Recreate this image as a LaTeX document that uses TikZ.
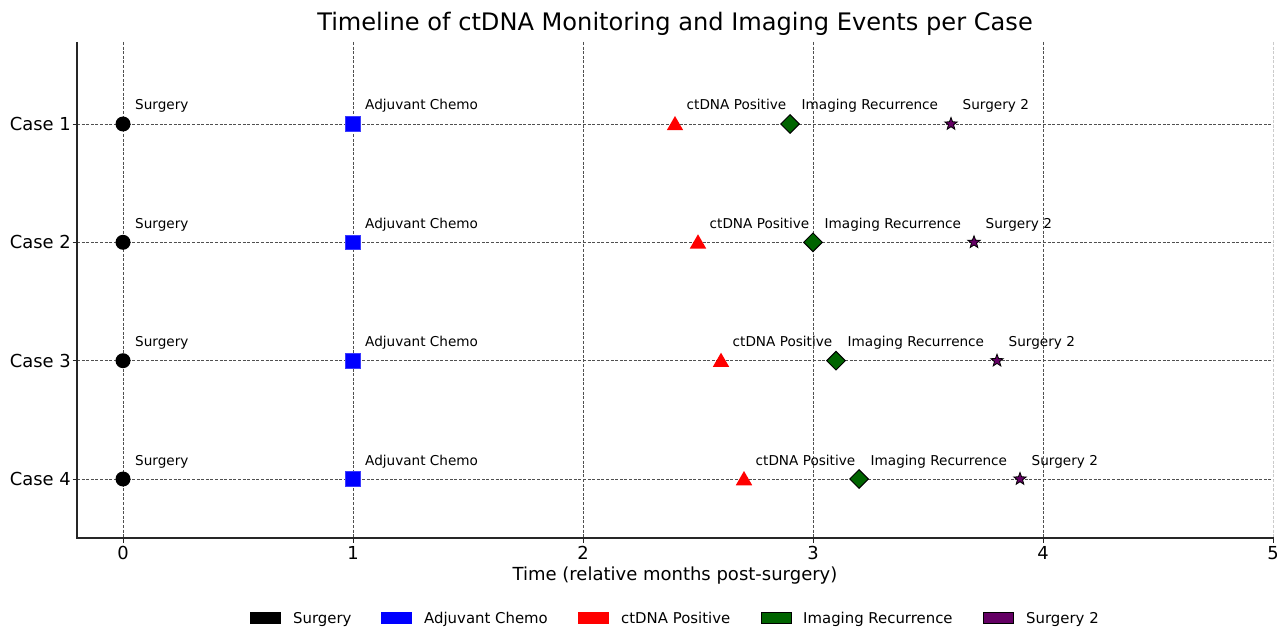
\documentclass[tikz,border=0pt]{standalone}
\usepackage{fontspec}
\setmainfont{DejaVu Sans}
\usetikzlibrary{shapes.geometric,shapes.misc}
\definecolor{darkgreenc}{HTML}{006400}
\definecolor{purplec}{HTML}{640064}
\definecolor{gridc}{HTML}{505050}
\tikzset{
  gridline/.style={draw=gridc,line width=0.7pt,dash pattern=on 3pt off 1.6pt},
  spine/.style={draw=black!85,line width=1.4pt},
  ticklbl/.style={font=\fontsize{17.9}{20}\selectfont,inner sep=0pt},
  ann/.style={font=\fontsize{13.6}{15}\selectfont,inner sep=0pt,anchor=base west},
  legtext/.style={font=\fontsize{14.9}{17}\selectfont,inner sep=0pt,anchor=base west},
  mk-surg/.style={circle,fill=black,minimum size=15pt,inner sep=0pt},
  mk-chemo/.style={rectangle,fill=blue,draw={rgb,255:red,60;green,60;blue,255},line width=0.6pt,minimum size=14.5pt,inner sep=0pt},
  mk-ct/.style={regular polygon,regular polygon sides=3,fill=red,minimum size=19pt,inner sep=0pt},
  mk-img/.style={diamond,fill=darkgreenc,draw=black,line width=1pt,minimum size=19pt,inner sep=0pt},
  mk-s2/.style={star,star points=5,star point ratio=2.4,fill=purplec,draw=black,line width=0.8pt,minimum size=13pt,inner sep=0pt},
  legpatch/.style={minimum width=31pt,minimum height=12.5pt,inner sep=0pt,anchor=west},
}
\begin{document}
\begin{tikzpicture}[x=1pt,y=-1pt]
\useasboundingbox (0,0) rectangle (1277,628);
% title
\node[inner sep=0pt,font=\fontsize{24.1}{28}\selectfont] (title) at (675,24) {Timeline of ctDNA Monitoring and Imaging Events per Case};
% grid
\foreach \t in {0,1,2,3,4}{
  \draw[gridline] ({123+230*\t},42) -- ({123+230*\t},538);
}
\draw[draw=gridc!30,line width=0.7pt,dash pattern=on 3pt off 1.6pt] (1273,42) -- (1273,538);
\foreach \r/\yy in {1/124,2/242.3,3/360.7,4/479}{
  \draw[gridline] (77,\yy) -- (1273,\yy);
  \draw[black!85,line width=0.9pt] (72.5,\yy) -- (77,\yy);
  \node[ticklbl,anchor=east] (ylab\r) at (71,\yy) {Case \r};
}
% spines
\coordinate (topleft) at (77,42);
\coordinate (origin) at (77,538);
\coordinate (botright) at (1273.5,538);
\draw[spine] (topleft) -- (origin) -- (botright);
\foreach \t in {0,1,2,3,4,5}{
  \draw[black!85,line width=0.9pt] ({123+230*\t},538) -- ({123+230*\t},543);
  \node[ticklbl,anchor=north] (xlab\t) at ({123+230*\t},546) {\t};
}
\node[inner sep=0pt,font=\fontsize{18}{20}\selectfont] (xlabel) at (675,576) {Time (relative months post-surgery)};
% events
\foreach \r/\yy/\c/\i/\s in {1/124/2.4/2.9/3.6, 2/242.3/2.5/3.0/3.7, 3/360.7/2.6/3.1/3.8, 4/479/2.7/3.2/3.9}{
  \node[mk-surg] (surg\r) at (123,\yy) {};
  \node[ann] (surgl\r) at (135,\yy-14) {Surgery};
  \node[mk-chemo] (chemo\r) at (353,\yy) {};
  \node[ann] (chemol\r) at (365,\yy-14) {Adjuvant Chemo};
  \node[mk-ct,yshift=-1.5pt] (ct\r) at ({123+230*\c},\yy) {};
  \node[ann] (ctl\r) at ({123+230*\c+11.5},\yy-14) {ctDNA Positive};
  \node[mk-img] (img\r) at ({123+230*\i},\yy) {};
  \node[ann] (imgl\r) at ({123+230*\i+11.5},\yy-14) {Imaging Recurrence};
  \node[mk-s2] (s2\r) at ({123+230*\s},\yy) {};
  \node[ann] (s2l\r) at ({123+230*\s+11.5},\yy-14) {Surgery 2};
}
% legend
\node[legpatch,fill=black] (lp1) at (250,618) {};
\node[legtext] (lt1) at (293,623.5) {Surgery};
\node[legpatch,fill=blue] (lp2) at (381,618) {};
\node[legtext] (lt2) at (424,623.5) {Adjuvant Chemo};
\node[legpatch,fill=red] (lp3) at (578,618) {};
\node[legtext] (lt3) at (621,623.5) {ctDNA Positive};
\node[legpatch,fill=darkgreenc,draw=black,line width=0.8pt,minimum width=30pt,minimum height=11.5pt] (lp4) at (761,618) {};
\node[legtext] (lt4) at (803,623.5) {Imaging Recurrence};
\node[legpatch,fill=purplec,draw=black,line width=0.8pt,minimum width=30pt,minimum height=11.5pt] (lp5) at (983,618) {};
\node[legtext] (lt5) at (1026,623.5) {Surgery 2};
\end{tikzpicture}
\end{document}
